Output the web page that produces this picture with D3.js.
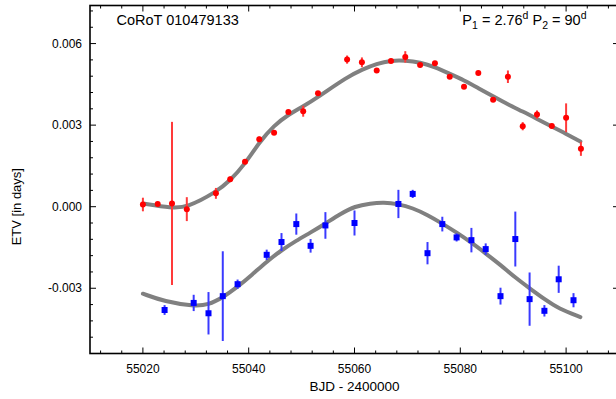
<!DOCTYPE html>
<html><head><meta charset="utf-8">
<script src="https://cdn.jsdelivr.net/npm/d3@7"></script>
<style>body{margin:0;background:#fff}svg{display:block}text{font-family:"Liberation Sans",Arial,Helvetica,sans-serif;fill:#000}</style>
</head><body><svg id="c" width="616" height="399"></svg>
<script>
// Primary (red) eclipse timing variations: [BJD-2400000, ETV, error]
const redX = [55020,55022.8,55025.5,55028.3,55033.8,55036.5,55039.3,55042,55044.8,55047.5,55050.3,55053.1,55058.6,55061.4,55064.2,55066.9,55069.6,55072.4,55075.2,55078,55080.7,55083.4,55086.2,55089,55091.8,55094.5,55097.3,55100,55102.8];
const redY = [0.00008,0.0001,0.00012,-0.00009,0.00049,0.00101,0.00165,0.00248,0.00272,0.00348,0.00351,0.00417,0.00541,0.00531,0.00501,0.00536,0.00551,0.00521,0.00528,0.00478,0.00441,0.00492,0.00393,0.00478,0.00296,0.00339,0.00297,0.00327,0.00213];
const redE = [0.00025,0.00008,0.003,0.00044,0.0002,0.0001,0.00008,0.0001,0.00008,0.00008,0.0002,0.00008,0.00015,0.00018,0.00008,0.00008,0.00021,0.00008,0.00008,0.00008,0.00008,0.00008,0.00008,0.00023,0.00015,0.00015,0.00008,0.00053,0.00026];
// Secondary (blue)
const blueX = [55024.1,55029.6,55032.4,55035.1,55037.9,55043.4,55046.2,55049,55051.7,55054.5,55060,55068.3,55071,55073.8,55076.6,55079.3,55082.1,55084.8,55087.6,55090.4,55093.1,55095.9,55098.6,55101.4];
const blueY = [-0.0038,-0.00354,-0.00392,-0.00329,-0.00285,-0.00177,-0.0013,-0.00064,-0.00144,-0.00069,-0.0006,0.0001,0.00047,-0.00171,-0.00064,-0.00113,-0.00123,-0.00156,-0.00329,-0.00119,-0.0034,-0.00383,-0.00267,-0.00344];
const blueE = [0.00018,0.0003,0.00078,0.00165,0.00017,0.00019,0.00033,0.00039,0.00025,0.00049,0.00046,0.00052,0.00015,0.00041,0.00027,0.00015,0.00045,0.00021,0.00031,0.00101,0.00098,0.00021,0.0005,0.00026];
// Model curves
const fitRedX = [55020,55025.5,55028.3,55033.8,55036.5,55039.3,55042,55044.8,55047.5,55050.3,55053.1,55058.6,55061.4,55064.2,55066.9,55069.6,55072.4,55075.2,55078,55080.7,55083.4,55086.2,55089,55091.8,55094.5,55097.3,55100,55102.7];
const fitRedY = [0.00012,-0.00005,-0.00003,0.00053,0.00096,0.00157,0.00237,0.00299,0.00339,0.00369,0.00403,0.00477,0.00504,0.00526,0.00538,0.00538,0.00531,0.00514,0.00489,0.00465,0.00436,0.00406,0.00376,0.0035,0.00323,0.00295,0.00268,0.0024];
const fitBlueX = [55020,55024.1,55029.6,55032.4,55035.1,55037.9,55040.6,55043.4,55046.2,55049,55051.7,55054.5,55057.3,55060.1,55063,55065.5,55068.3,55071,55073.8,55076.6,55079.3,55082.1,55084.8,55087.6,55090.4,55093.1,55095.9,55098.6,55102.7];
const fitBlueY = [-0.0032,-0.00349,-0.00366,-0.00361,-0.00334,-0.00295,-0.00251,-0.00202,-0.0016,-0.00125,-0.00095,-0.00062,-0.00027,0.00002,0.00012,0.00016,0.0001,-0.00005,-0.0003,-0.00062,-0.00095,-0.00132,-0.00172,-0.00214,-0.00261,-0.003,-0.0034,-0.00375,-0.00406];
const xTicks = [55020,55040,55060,55080,55100];
const yTicks = [-0.003,0,0.003,0.006];
const yTickLabels = ["-0.003","0.000","0.003","0.006"];

const svg = d3.select("#c");
const L=90,R=619,T=5.5,B=353.5;
const x = d3.scaleLinear().domain([55010,55110]).range([L,R]);
const y = d3.scaleLinear().domain([-0.0054,0.0074]).range([B,T]);
const xMinor = d3.range(55012,55110,4);
const yMinor = d3.range(-54,75,6).map(v=>v/10000);

// curves
const line = d3.line().x(d=>x(d[0])).y(d=>y(d[1])).curve(d3.curveBasis);
[[fitRedX,fitRedY],[fitBlueX,fitBlueY]].forEach(([xs,ys])=>{
  svg.append("path").attr("d",line(xs.map((v,i)=>[v,ys[i]])))
    .attr("fill","none").attr("stroke","#808080").attr("stroke-width",4).attr("stroke-linecap","round");
});

// error bars & points
const red = redX.map((v,i)=>({x:v,y:redY[i],e:redE[i]}));
const blue = blueX.map((v,i)=>({x:v,y:blueY[i],e:blueE[i]}));
svg.append("g").selectAll("line").data(red).join("line")
  .attr("x1",d=>x(d.x)).attr("x2",d=>x(d.x)).attr("y1",d=>y(d.y-d.e)).attr("y2",d=>y(d.y+d.e))
  .attr("stroke","#ff3a3a").attr("stroke-width",2);
svg.append("g").selectAll("circle").data(red).join("circle")
  .attr("cx",d=>x(d.x)).attr("cy",d=>y(d.y)).attr("r",3).attr("fill","#ff0000");
svg.append("g").selectAll("line").data(blue).join("line")
  .attr("x1",d=>x(d.x)).attr("x2",d=>x(d.x)).attr("y1",d=>y(d.y-d.e)).attr("y2",d=>y(d.y+d.e))
  .attr("stroke","#3a3aff").attr("stroke-width",2);
svg.append("g").selectAll("rect").data(blue).join("rect")
  .attr("x",d=>x(d.x)-3).attr("y",d=>y(d.y)-3).attr("width",6).attr("height",6).attr("fill","#0000ff");

// frame
svg.append("rect").attr("x",L).attr("y",T).attr("width",R-L).attr("height",B-T)
  .attr("fill","none").attr("stroke","#000").attr("stroke-width",1.6);

// ticks (inward, all sides)
const tk = svg.append("g").attr("stroke","#000").attr("stroke-width",1);
xMinor.forEach(v=>{
  const len = xTicks.includes(v)?6:3;
  tk.append("line").attr("x1",x(v)).attr("x2",x(v)).attr("y1",B).attr("y2",B-len);
  tk.append("line").attr("x1",x(v)).attr("x2",x(v)).attr("y1",T).attr("y2",T+len);
});
yMinor.forEach(v=>{
  const len = yTicks.some(t=>Math.abs(t-v)<1e-9)?6:3;
  tk.append("line").attr("y1",y(v)).attr("y2",y(v)).attr("x1",L).attr("x2",L+len);
  tk.append("line").attr("y1",y(v)).attr("y2",y(v)).attr("x1",R).attr("x2",R-len);
});

// tick labels
svg.append("g").selectAll("text").data(xTicks).join("text")
  .attr("x",d=>x(d)).attr("y",373).attr("text-anchor","middle").attr("font-size",12).text(d=>d);
svg.append("g").selectAll("text").data(yTicks).join("text")
  .attr("x",82).attr("y",d=>y(d)).attr("dy","0.35em").attr("text-anchor","end").attr("font-size",12)
  .text((d,i)=>yTickLabels[i]);

// axis titles
svg.append("text").attr("x",(L+R)/2).attr("y",391).attr("text-anchor","middle").attr("font-size",13.5).text("BJD - 2400000");
svg.append("text").attr("transform",`translate(21,${y(0)}) rotate(-90)`).attr("text-anchor","middle").attr("font-size",13).text("ETV [in days]");

// annotations
svg.append("text").attr("x",116.5).attr("y",25).attr("font-size",14.5).text("CoRoT 010479133");
const p = svg.append("text").attr("x",586.5).attr("y",25).attr("text-anchor","end").attr("font-size",14.5);
p.append("tspan").text("P");
p.append("tspan").attr("font-size",10.5).attr("dy",4).text("1");
p.append("tspan").attr("dy",-4).text(" = 2.76");
p.append("tspan").attr("font-size",10.5).attr("dy",-6).text("d");
p.append("tspan").attr("dy",6).text(" P");
p.append("tspan").attr("font-size",10.5).attr("dy",4).text("2");
p.append("tspan").attr("dy",-4).text(" = 90");
p.append("tspan").attr("font-size",10.5).attr("dy",-6).text("d");
</script></body></html>
